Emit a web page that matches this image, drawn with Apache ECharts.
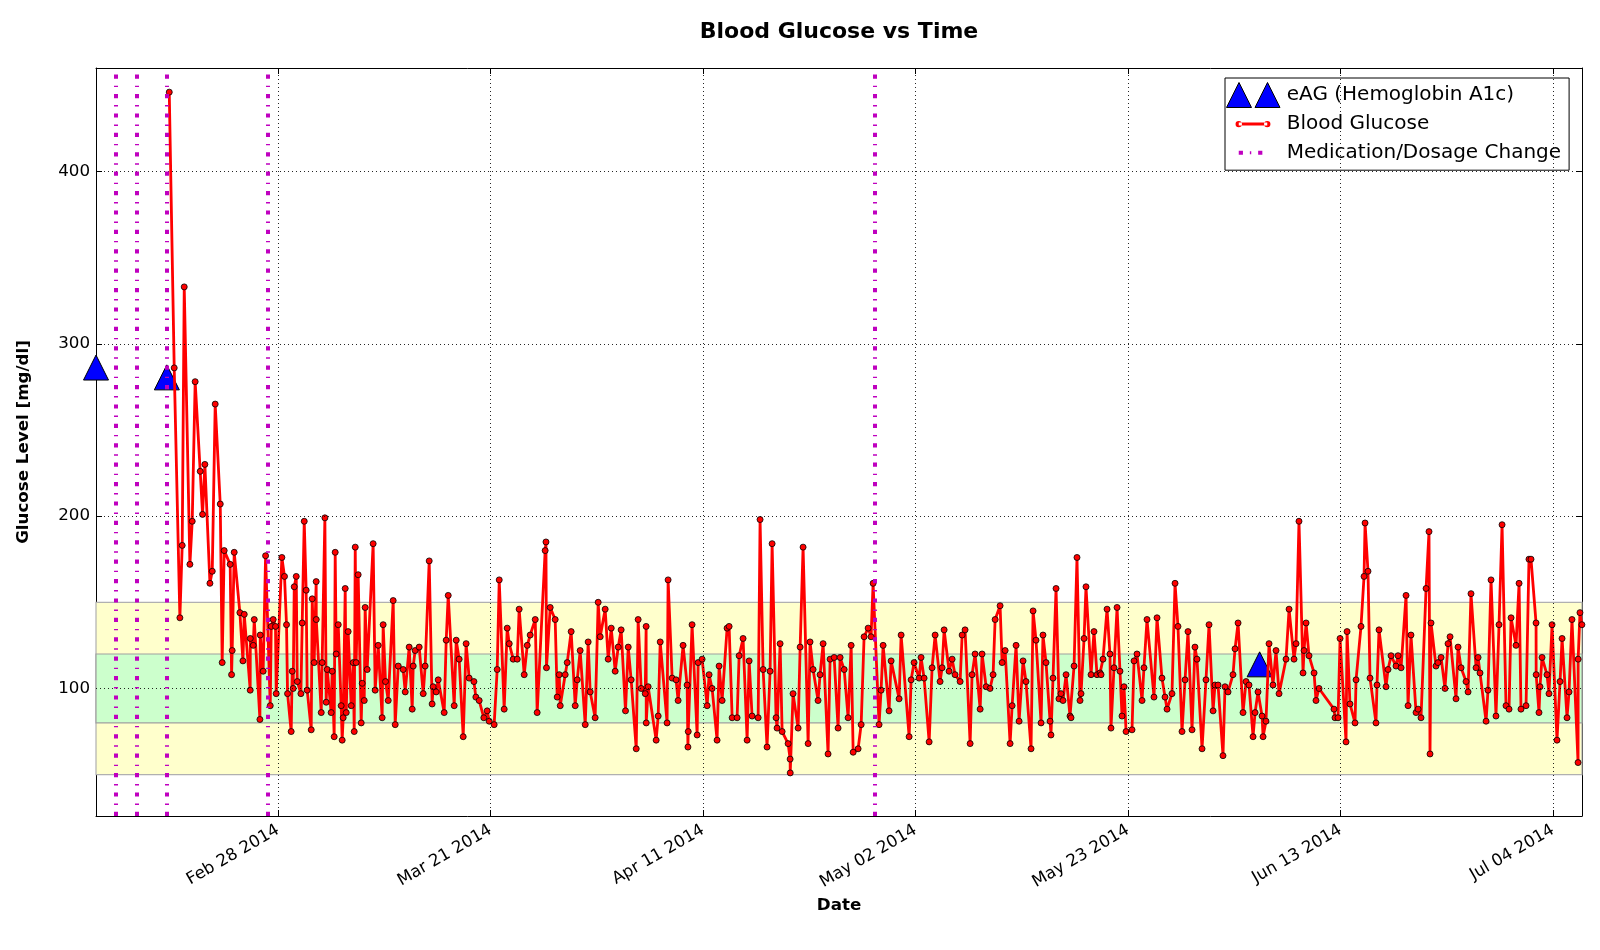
<!DOCTYPE html>
<html>
<head>
<meta charset="utf-8">
<script src="https://cdn.jsdelivr.net/npm/echarts@6/dist/echarts.min.js"></script>
<style>html,body{margin:0;padding:0;background:#fff}#chart{width:1600px;height:950px}</style>
</head>
<body>
<div id="chart"></div>
<script>
// ---------------- data ----------------
const startDate = '2014-02-10';          // day 0 of the offsets below
const lastReadingDay = 146.86;           // right end of the time range (days after start)
const yRange = [26, 460];
const xTickDates = ['2014-02-28','2014-03-21','2014-04-11','2014-05-02','2014-05-23','2014-06-13','2014-07-04'];
const yTickValues = [100, 200, 300, 400];
const eagDates = ['2014-02-10','2014-02-17','2014-06-05'];
const eagValues = [286.2, 280.5, 114.0];
const medicationChangeDates = ['2014-02-12','2014-02-14','2014-02-17','2014-02-27','2014-04-28'];
const acceptableRange = [50, 150];
const targetRange = [80, 120];
// [days after startDate, glucose mg/dl]
const glucoseReadings = [
[7.24,446],[7.73,286],[8.29,141],[8.52,183],[8.72,333],[9.28,172],[9.51,197],[9.80,278],[10.30,226],[10.53,201],
[10.76,230],[11.26,161],[11.49,168],[11.78,265],[12.28,207],[12.47,115],[12.67,180],[13.26,172],[13.40,108],[13.46,122],
[13.66,179],[14.22,144],[14.52,116],[14.65,143],[15.24,99],[15.25,129],[15.54,125],[15.64,140],[16.20,82],[16.23,131],
[16.52,110],[16.76,177],[17.22,90],[17.32,136],[17.51,140],[17.74,136],[17.81,97],[18.37,176],[18.63,165],[18.83,137],
[18.93,97],[19.29,75],[19.39,110],[19.49,100],[19.59,159],[19.79,165],[19.89,104],
[20.25,97],[20.38,138],[20.58,197],[20.77,157],[20.87,99],[21.27,76],[21.37,152],[21.56,115],[21.76,162],[21.77,140],
[22.26,86],[22.35,115],[22.62,199],[22.75,92],[22.85,111],[23.24,86],[23.34,110],[23.54,72],[23.64,179],[23.74,120],
[23.94,137],[24.23,90],[24.33,70],[24.43,83],[24.63,158],[24.73,86],[24.92,133],[25.22,90],[25.42,115],[25.52,75],
[25.62,182],[25.71,115],[25.91,166],[26.21,80],[26.31,103],[26.51,93],[26.60,147],[26.80,111],[27.39,184],[27.59,99],
[27.89,125],[28.28,83],[28.38,137],[28.61,104],[28.88,93],[29.37,151],[29.57,79],[29.87,113],[30.36,111],[30.56,98],
[30.95,124],[31.25,88],[31.35,113],[31.54,122],[31.94,124],[32.34,97],[32.53,113],[32.93,174],[33.22,91],[33.32,101],
[33.62,98],[33.82,105],[34.41,86],[34.61,128],[34.81,154],[35.40,90],[35.60,128],[35.89,117],[36.29,72],[36.58,126],
[36.88,106],
[37.35,104],[37.54,95],[37.87,93],[38.33,83],[38.66,87],[38.86,81],[39.35,79],[39.65,111],[39.85,163],[40.34,88],
[40.64,135],[40.84,126],[41.23,117],[41.63,117],[41.82,146],[42.32,108],[42.62,125],[42.91,131],[43.41,140],[43.60,86],
[44.39,180],[44.47,185],[44.52,112],[44.89,147],[45.38,140],[45.58,95],[45.78,108],[45.88,90],[46.37,108],[46.57,115],
[46.96,133],[47.36,90],[47.56,105],[47.85,122],[48.35,79],[48.64,127],[48.84,98],[49.33,83],[49.63,150],[49.83,130],
[50.32,146],[50.62,117],[50.92,135],[51.31,110],[51.61,124],[51.90,134],[52.33,87],[52.60,124],[52.89,105],[53.39,65],
[53.58,140],[53.88,100],[54.28,97],[54.37,136],[54.38,80],[54.57,101],[55.36,70],[55.56,84],[55.76,127],
[56.44,80],[56.54,163],[56.94,106],[57.33,105],[57.53,93],[58.02,125],[58.42,102],[58.50,66],[58.53,75],[58.91,137],
[59.41,73],[59.51,115],[59.90,117],[60.40,90],[60.59,108],[60.89,100],[61.38,70],[61.58,113],[61.88,93],[62.37,135],
[62.57,136],[62.87,83],[63.36,83],[63.56,119],[63.95,129],[64.35,70],[64.55,116],[64.84,84],[65.44,83],[65.63,198],
[65.93,111],[66.32,66],[66.62,110],[66.82,184],[67.21,83],[67.31,77],[67.61,126],[67.81,75],[68.40,68],[68.60,59],
[68.61,51],[68.89,97],[69.39,77],[69.59,124],[69.88,182],[70.38,68],[70.57,127],[70.87,111],[71.36,93],[71.56,108],
[71.86,126],[72.35,62],[72.55,117],
[72.95,118],[73.34,77],[73.54,118],[73.94,111],[74.33,83],[74.63,125],[74.83,63],[75.32,65],[75.62,79],[75.91,130],
[76.31,135],[76.60,130],[76.80,161],[77.39,79],[77.59,99],[77.79,125],[78.38,87],[78.58,116],[79.37,94],[79.57,131],
[80.36,72],[80.56,105],[80.85,115],[81.35,106],[81.54,118],[81.84,106],[82.34,69],[82.63,112],[82.93,131],[83.42,104],
[83.62,112],[83.82,134],[84.31,110],[84.61,117],[84.90,108],[85.40,104],[85.60,131],[85.89,134],[86.39,68],[86.58,108],
[86.88,120],[87.38,88],[87.57,120],[87.97,101],[88.36,100],[88.66,108],[88.86,140],[89.35,148],[89.55,115],[89.85,122],
[90.34,68],[90.54,90],[90.93,125],[91.23,81],
[91.62,116],[91.91,104],[92.41,65],[92.61,145],[92.90,128],[93.40,80],[93.59,131],[93.89,115],[94.29,81],[94.38,73],
[94.58,106],[94.88,158],[95.17,94],[95.37,97],[95.57,93],[95.87,108],[96.26,84],[96.36,83],[96.66,113],[96.95,176],
[97.25,93],[97.35,97],[97.65,129],[97.84,159],[98.34,108],[98.63,133],[98.93,108],[99.23,109],[99.33,108],[99.52,117],
[99.92,146],[100.21,120],[100.31,77],[100.61,112],[100.91,147],[101.20,110],[101.40,84],[101.60,101],[101.80,75],[102.39,76],
[102.59,116],[102.88,120],[103.38,93],[103.57,112],[103.87,140],[104.56,95],[104.86,141],[105.35,106],[105.65,95],[105.85,88],
[106.34,97],[106.64,161],[106.93,136],[107.33,75],[107.63,105],[107.92,133],[108.32,76],[108.61,124],[108.81,117],
[109.31,65],[109.70,105],[110.00,137],[110.40,87],[110.59,102],[110.89,102],[111.38,61],[111.58,101],[111.88,98],[112.37,108],
[112.57,123],[112.87,138],[113.36,86],[113.66,104],[113.95,102],[114.35,72],[114.55,86],[114.84,98],[115.24,84],[115.34,72],
[115.63,81],[115.93,126],[116.32,102],[116.62,122],[116.92,97],[117.61,117],[117.91,146],[118.40,117],[118.60,126],[118.89,197],
[119.29,109],[119.39,122],[119.59,138],[119.88,119],[120.38,109],[120.57,93],[120.87,100],[122.35,88],[122.45,83],[122.75,83],
[122.95,129],[123.54,69],[123.64,133],[123.93,91],[124.43,80],[124.53,105],[125.02,136],[125.32,165],[125.42,196],[125.71,168],
[125.91,106],[126.50,80],[126.60,102],[126.80,134],
[127.49,101],[127.69,111],[127.99,119],[128.48,113],[128.68,119],[128.98,112],[129.47,154],[129.67,90],[129.96,131],[130.46,86],
[130.66,88],[130.95,83],[131.45,158],[131.74,191],[131.84,62],[131.94,138],[132.43,113],[132.63,115],[132.93,118],[133.32,100],
[133.62,126],[133.82,130],[134.41,94],[134.61,124],[134.91,112],[135.40,104],[135.60,98],[135.89,155],[136.39,112],[136.59,118],
[136.78,109],[137.38,81],[137.57,99],[137.87,163],[138.36,84],[138.66,137],[138.96,195],[139.35,90],[139.65,88],[139.85,141],
[140.34,125],[140.64,161],[140.83,88],[141.33,90],[141.62,175],[141.82,175],[142.32,138],[142.33,108],[142.61,86],[142.71,101],
[142.91,118],[143.40,108],[143.60,97],[143.90,137],[144.39,70],[144.69,104],[144.89,129],[145.38,83],[145.58,98],[145.87,140],
[146.47,57],[146.48,117],[146.66,144],[146.85,137]
];

// ---------------- helpers ----------------
const DAY = 86400000;
function parseDate(s) { const p = s.split('-').map(Number); return Date.UTC(p[0], p[1] - 1, p[2]); }
const t0 = parseDate(startDate);
const tEnd = t0 + lastReadingDay * DAY;
const xTicks = xTickDates.map(parseDate);
const MONTHS = ['Jan','Feb','Mar','Apr','May','Jun','Jul','Aug','Sep','Oct','Nov','Dec'];
function fmtDate(v) { const d = new Date(v); return MONTHS[d.getUTCMonth()] + ' ' + String(d.getUTCDate()).padStart(2, '0') + ' ' + d.getUTCFullYear(); }

const FONT = 'DejaVu Sans';
const glucoseData = glucoseReadings.map(r => [t0 + r[0] * DAY, r[1]]);
const eagData = eagDates.map((d, i) => [parseDate(d), eagValues[i]]);
const medTimes = medicationChangeDates.map(parseDate);
const medDash = [4.2, 6.9, 1.4, 6.9];

const chart = echarts.init(document.getElementById('chart'), null, { renderer: 'canvas' });

const frameLine = { show: true, onZero: false, lineStyle: { color: '#000', width: 1 } };
const option = {
  animation: false,
  backgroundColor: '#fff',
  title: {
    text: 'Blood Glucose vs Time', left: 839, top: 21, padding: 0, textAlign: 'center',
    textStyle: { fontFamily: FONT, fontSize: 22, fontWeight: 'bold', color: '#000' }
  },
  grid: { left: 96, top: 68, right: 18, bottom: 134, outerBoundsMode: 'none', containLabel: false },
  legend: {
    orient: 'vertical', left: 1225, top: 78, selectedMode: false,
    padding: [4, 8, 5, 1], itemWidth: 57, itemHeight: 25, itemGap: 3.6,
    backgroundColor: '#fff', borderColor: '#000', borderWidth: 1, borderRadius: 0,
    textStyle: { fontFamily: FONT, fontSize: 20, color: '#000' },
    data: [
      { name: 'eAG (Hemoglobin A1c)', itemStyle: { opacity: 1, color: '#0000ff', borderColor: '#000', borderWidth: 1 },
        icon: 'path://M0,25 L12.5,0 L25,25 Z M28.5,25 L41,0 L53.5,25 Z' },
      { name: 'Blood Glucose', itemStyle: { borderWidth: 0 },
        icon: 'path://M0,0 L0.01,0 L0,0.01 Z M54,25 L53.99,25 L54,24.99 Z M12.5,11 L41,11 L41,14 L12.5,14 Z M9.3,12.5 A3.2,3.2 0 1,0 15.7,12.5 A3.2,3.2 0 1,0 9.3,12.5 Z M37.8,12.5 A3.2,3.2 0 1,0 44.2,12.5 A3.2,3.2 0 1,0 37.8,12.5 Z' },
      { name: 'Medication/Dosage Change', itemStyle: { borderWidth: 0 },
        icon: 'path://M0,0 L0.01,0 L0,0.01 Z M54,25 L53.99,25 L54,24.99 Z M12.5,10.5 L16.7,10.5 L16.7,14.5 L12.5,14.5 Z M23.6,11 L25,11 L25,14 L23.6,14 Z M31.9,10.5 L36.1,10.5 L36.1,14.5 L31.9,14.5 Z' }
    ]
  },
  xAxis: [
    {
      type: 'value', min: t0, max: tEnd, position: 'bottom', scale: true,
      axisLine: frameLine,
      axisTick: { show: true, inside: true, length: 6, customValues: xTicks, lineStyle: { color: '#000' } },
      axisLabel: { customValues: xTicks, formatter: fmtDate, rotate: 30, margin: 13, fontFamily: FONT, fontSize: 16.7, color: '#000' },
      splitLine: { show: false }, minorTick: { show: false },
      name: 'Date', nameLocation: 'middle', nameGap: 81,
      nameTextStyle: { fontFamily: FONT, fontSize: 16.7, fontWeight: 'bold', color: '#000' }
    },
    {
      type: 'value', min: t0, max: tEnd, position: 'top', scale: true,
      axisLine: frameLine,
      axisTick: { show: true, inside: true, length: 6, customValues: xTicks, lineStyle: { color: '#000' } },
      axisLabel: { show: false }, splitLine: { show: false }
    }
  ],
  yAxis: [
    {
      type: 'value', min: yRange[0], max: yRange[1], position: 'left',
      axisLine: frameLine,
      axisTick: { show: true, inside: true, length: 6, customValues: yTickValues, lineStyle: { color: '#000' } },
      axisLabel: { customValues: yTickValues, margin: 6, fontFamily: FONT, fontSize: 16.7, color: '#000' },
      splitLine: { show: false },
      name: 'Glucose Level [mg/dl]', nameLocation: 'middle', nameGap: 64,
      nameTextStyle: { fontFamily: FONT, fontSize: 16.7, fontWeight: 'bold', color: '#000' }
    },
    {
      type: 'value', min: yRange[0], max: yRange[1], position: 'right',
      axisLine: frameLine,
      axisTick: { show: true, inside: true, length: 6, customValues: yTickValues, lineStyle: { color: '#000' } },
      axisLabel: { show: false }, splitLine: { show: false }
    }
  ],
  series: [
    {
      name: 'bands', type: 'line', data: [], z: 1, silent: true,
      markArea: {
        silent: true,
        data: [
          [{ xAxis: t0, yAxis: acceptableRange[0], itemStyle: { color: '#ffffcc', borderColor: '#b0b0b0', borderWidth: 1.2 } },
           { xAxis: tEnd, yAxis: acceptableRange[1] }],
          [{ xAxis: t0, yAxis: targetRange[0], itemStyle: { color: '#ccffcc', borderColor: '#a0a0a0', borderWidth: 1.2 } },
           { xAxis: tEnd, yAxis: targetRange[1] }]
        ]
      }
    },
    {
      name: 'grid', type: 'line', data: [], z: 2, silent: true,
      markLine: {
        silent: true, symbol: ['none', 'none'], label: { show: false },
        lineStyle: { color: '#000', width: 1, type: [1, 3], opacity: 0.85 },
        data: xTicks.map(t => ({ xAxis: t })).concat(yTickValues.map(v => ({ yAxis: v })))
      }
    },
    {
      name: 'eAG (Hemoglobin A1c)', type: 'scatter', data: eagData, z: 3,
      symbol: 'triangle', symbolSize: 25,
      itemStyle: { color: '#0000ff', borderColor: '#000', borderWidth: 1, opacity: 1 }
    },
    {
      name: 'Blood Glucose', type: 'line', data: glucoseData, z: 4,
      symbol: 'circle', symbolSize: 6, showAllSymbol: true,
      lineStyle: { color: '#ff0000', width: 2.8 },
      itemStyle: { color: '#ff0000', borderColor: '#000', borderWidth: 0.8, opacity: 1 }
    },
    {
      name: 'Medication/Dosage Change', type: 'line', data: [], z: 5, symbol: 'none',
      itemStyle: { color: '#bf00bf' },
      lineStyle: { color: '#bf00bf', width: 4, type: medDash },
      markLine: {
        silent: true, symbol: ['none', 'none'], label: { show: false },
        lineStyle: { color: '#bf00bf', width: 4, type: medDash, cap: 'butt' },
        data: medTimes.map(t => ({ xAxis: t }))
      }
    }
  ]
};
chart.setOption(option);
</script>
</body>
</html>
